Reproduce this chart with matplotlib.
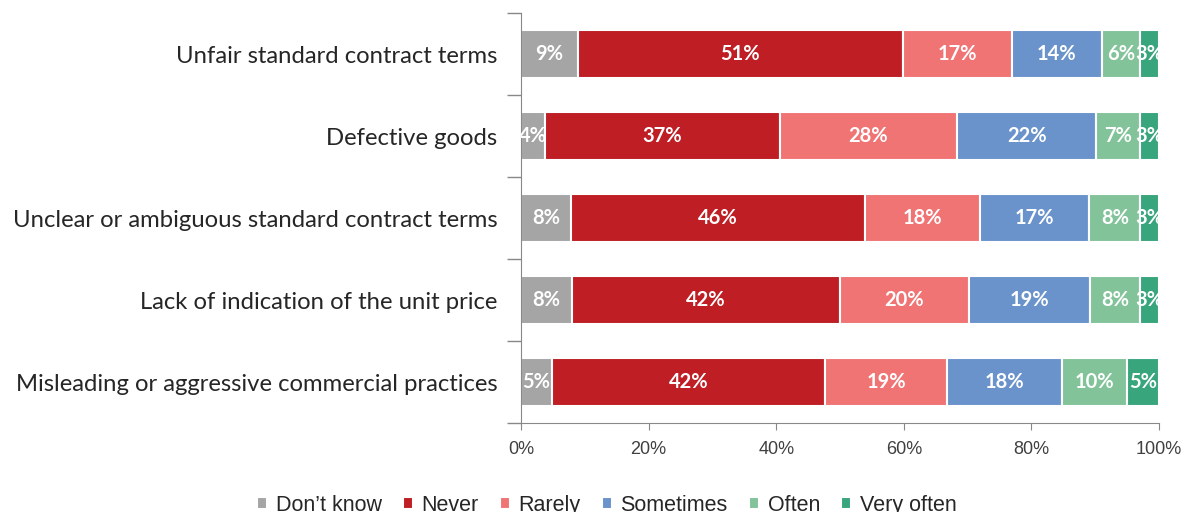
import matplotlib.pyplot as plt
import numpy as np

categories = ["Unfair standard contract terms",
              "Defective goods",
              "Unclear or ambiguous standard contract terms",
              "Lack of indication of the unit price",
              "Misleading or aggressive commercial practices"]

series_names = ["Don\u2019t know", "Never", "Rarely", "Sometimes", "Often", "Very often"]
colors = ["#A5A5A5", "#BE1E24", "#F07474", "#6A93CB", "#82C39A", "#38A57D"]

dont_know = [8.9, 3.8, 7.8, 8.0, 4.9]
never = [50.9, 36.8, 46.1, 42.0, 42.8]
rarely = [17.2, 27.7, 18.0, 20.2, 19.1]
sometimes = [14.0, 21.9, 17.2, 19.0, 18.0]
often = [6.1, 6.9, 8.0, 7.8, 10.2]
very_often = [2.9, 2.9, 2.9, 3.0, 5.0]

labels_shown = [[9, 4, 8, 8, 5],
                [51, 37, 46, 42, 42],
                [17, 28, 18, 20, 19],
                [14, 22, 17, 19, 18],
                [6, 7, 8, 8, 10],
                [3, 3, 3, 3, 5]]

data = [dont_know, never, rarely, sometimes, often, very_often]

fig = plt.figure(figsize=(11.83, 5.12), dpi=100)
ax = fig.add_axes([0.4404, 0.1738, 0.5393, 0.8008])

y = np.arange(len(categories))
left = np.zeros(len(categories))
for vals, name, color, labs in zip(data, series_names, colors, labels_shown):
    vals = np.array(vals)
    bars = ax.barh(y, vals, left=left, height=0.585, color=color,
                   edgecolor="white", linewidth=1.5, label=name)
    for b, v, l in zip(bars, vals, labs):
        ax.text(b.get_x() + v / 2, b.get_y() + b.get_height() / 2, str(l) + "%",
                ha="center", va="center", color="white", fontsize=14.5,
                fontweight="bold", family="Lato", clip_on=True)
    left += vals

ax.set_xlim(0, 100)
ax.set_ylim(len(categories) - 0.5, -0.5)
ax.set_xticks(np.arange(0, 101, 20))
ax.set_xticklabels([str(v) + "%" for v in range(0, 101, 20)],
                   fontsize=13, color="#404040", family="Liberation Sans")
ax.set_yticks(y)
ax.set_yticklabels(categories, fontsize=17.2, color="#262626", family="Lato")
ax.tick_params(axis="y", length=0, pad=17)
ax.set_yticks(np.arange(-0.5, len(categories)), minor=True)
ax.tick_params(axis="y", which="minor", length=10, color="#888888", width=1)
ax.tick_params(axis="x", length=5, color="#888888", pad=8)

for s in ["top", "right"]:
    ax.spines[s].set_visible(False)
for s in ["left", "bottom"]:
    ax.spines[s].set_color("#888888")

fig.legend(loc="lower center", bbox_to_anchor=(0.513, -0.045), ncol=6,
           frameon=False, handlelength=0.45, handleheight=0.45, handletextpad=0.4,
           columnspacing=1.0, prop={"family": "Liberation Sans", "size": 15.5},
           labelcolor="#262626")

fig.savefig("out.png", dpi=100)
